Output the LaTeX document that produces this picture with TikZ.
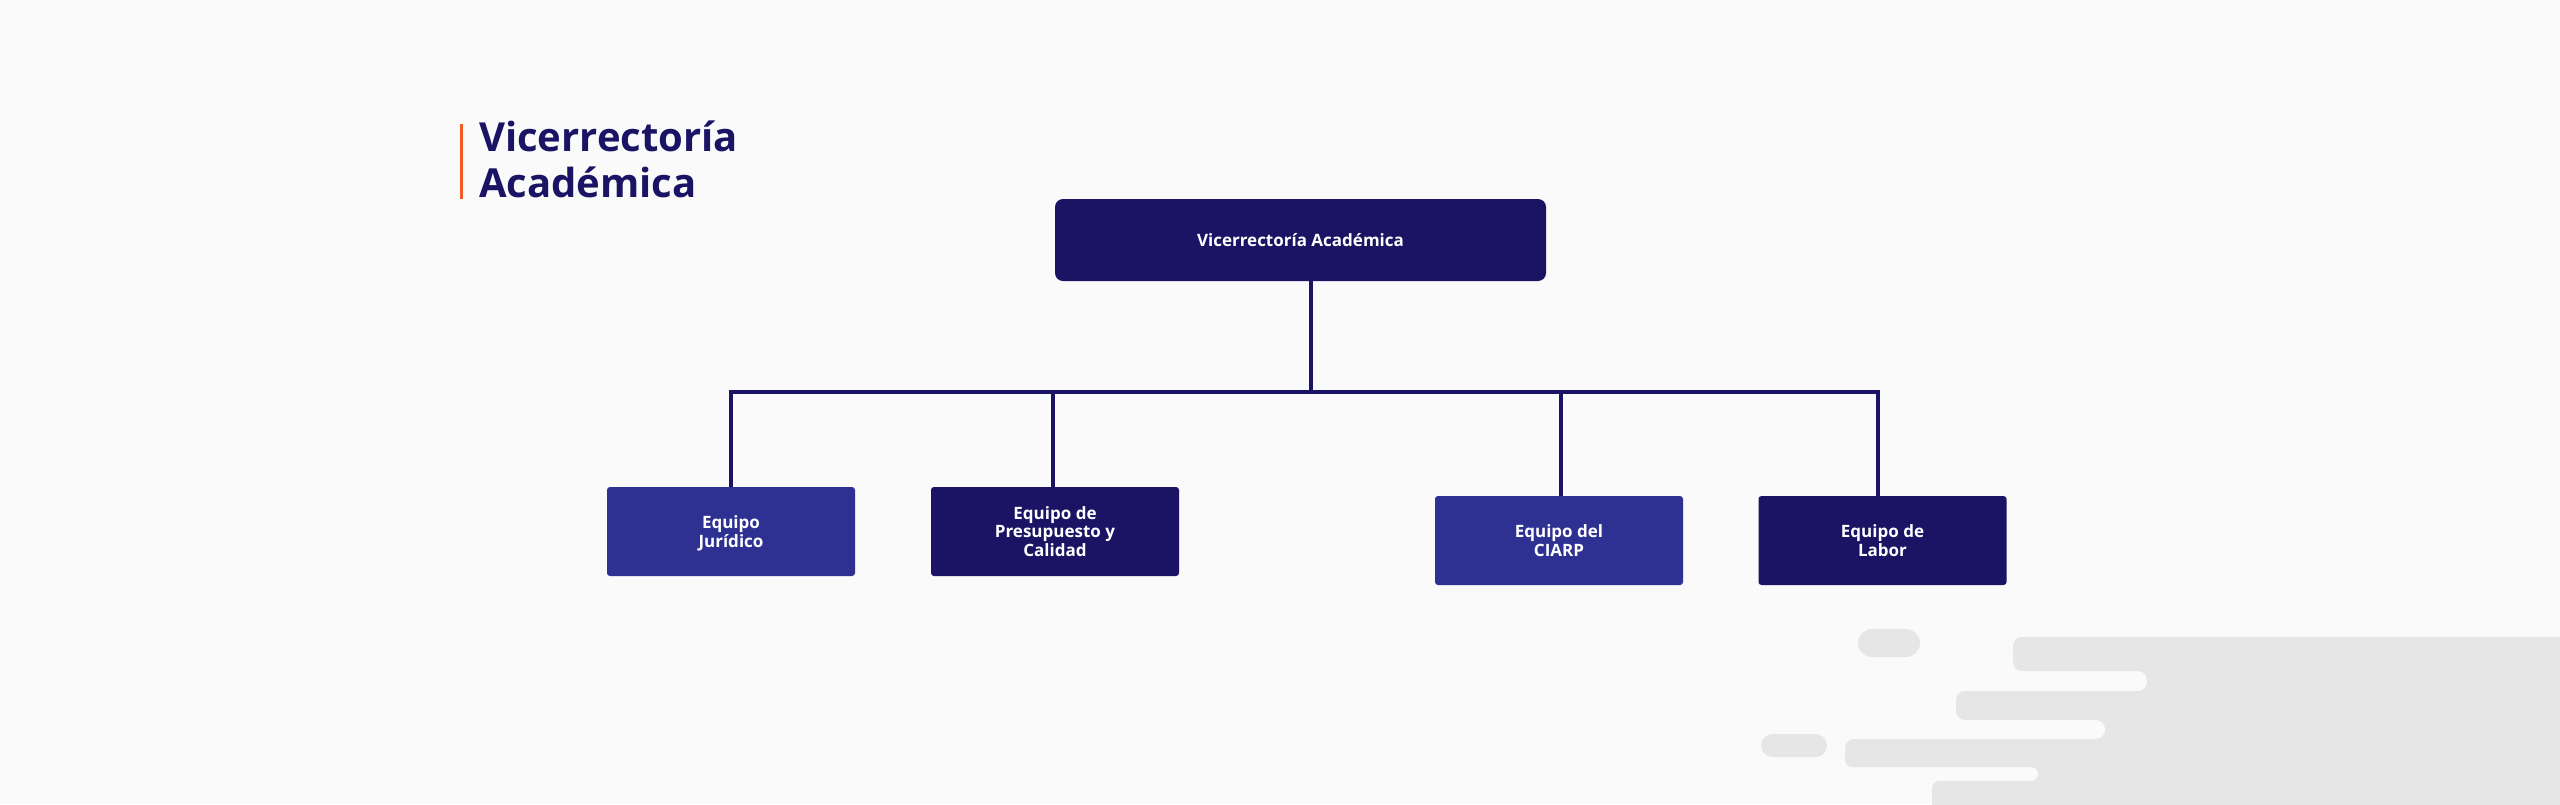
\documentclass[tikz,border=0pt]{standalone}
\usepackage{fontspec}
\setmainfont{Open Sans}
\usepackage{xcolor}
\usepackage{tikz}
\usetikzlibrary{calc}
\definecolor{navy}{HTML}{1B1464}
\definecolor{royal}{HTML}{2E3192}
\definecolor{fondo}{HTML}{FAFAFA}
\definecolor{gris}{HTML}{E6E6E6}
\definecolor{naranja}{HTML}{F15A24}
\tikzstyle{every node}=[font=\bfseries]
\tikzset{
    caja/.style={fill=navy, text=white, inner sep=0pt, minimum width=248, minimum height=89,
        align=center, rounded corners=3, font=\fontsize{17}{18.7}\selectfont\bfseries},
    equipo/.style={caja, text depth=0},
    equipoclaro/.style={equipo, fill=royal},
    linea/.style={navy, line width=4},
    titulo/.style={anchor=base west, inner sep=0pt, text=navy, font=\fontsize{40}{45}\selectfont\bfseries}
}

\begin{document}
\begin{tikzpicture}[x=1pt,y=-1pt]
            \useasboundingbox (0,0) rectangle (2560,804);
            \fill[fondo] (0,0) rectangle (2560,804);

            % decoracion gris
            \fill[gris, rounded corners=9] (2580,637) -- (2013,637) -- (2013,671) -- (2147,671) -- (2147,691)
                -- (1956,691) -- (1956,720) -- (2105,720) -- (2105,739) -- (1845,739)
                [rounded corners=7] -- (1845,767) -- (2038,767) -- (2038,781) -- (1932,781)
                [rounded corners=11] -- (1932,830) -- (2580,830) -- cycle;
            \fill[gris, rounded corners=14] (1858,629) rectangle (1920,657);
            \fill[gris, rounded corners=11.5] (1761,734) rectangle (1827,757);

            % titulo
            \fill[naranja] (460,124) rectangle (463,199);
            \node[titulo] (tit1) at (479,151) {Vicerrectoría};
            \node[titulo] (tit2) at (479,197) {Académica};

            \node[caja, minimum width=491, minimum height=82, rounded corners=8] (vice) at (1300.5,240) {Vicerrectoría Académica};
            \node[equipoclaro] (juridico) at (731,531.5) {Equipo\\Jurídico};
            \node[equipo] (presupuesto) at (1055,531.5) {Equipo de\\Presupuesto y\\Calidad};
            \node[equipoclaro] (ciarp) at (1559,540.5) {Equipo del\\CIARP};
            \node[equipo] (labor) at (1882.5,540.5) {Equipo de\\Labor};

            \coordinate (cruce) at (1311,392);
            \coordinate (c1) at (731,392);
            \coordinate (c2) at (1053,392);
            \coordinate (c3) at (1561,392);
            \coordinate (c4) at (1878,392);

            \draw[linea] (vice.south -| cruce) -- (cruce);
            \draw[linea] (juridico.north -| c1) -- (c1) -- (c4) -- (labor.north -| c4);
            \draw[linea] (c2) -- (presupuesto.north -| c2);
            \draw[linea] (c3) -- (ciarp.north -| c3);
        \end{tikzpicture}
\end{document}
